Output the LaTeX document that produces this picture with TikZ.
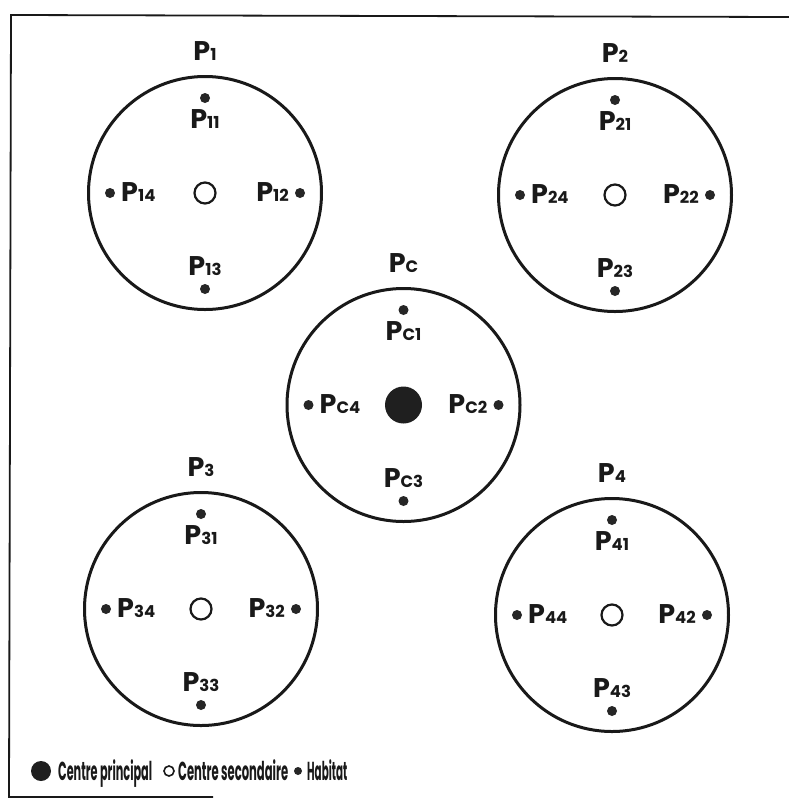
\documentclass[tikz,border=0pt]{standalone}
\usepackage{fontspec}
\usepackage{graphicx}
\newfontfamily\pfont{Poppins}
\newcommand{\plab}[1]{{\pfont\bfseries\fontsize{27}{27}\selectfont P\fontsize{16.5}{16.5}\selectfont #1}}
\newcommand{\legtext}[2]{\resizebox{#1}{\height}{\pfont\bfseries\fontsize{26}{26}\selectfont #2}}
\tikzset{
  x=1pt, y=-1pt,
  ring/.style={draw=black!90, line width=3pt, circle, minimum size=233pt, inner sep=0pt},
  hab/.style={fill=black!85, circle, minimum size=10pt, inner sep=0pt},
  sec/.style={draw=black!90, line width=2.2pt, circle, minimum size=21pt, inner sep=0pt},
  prin/.style={fill=black!88, circle, minimum size=37pt, inner sep=0pt},
  lab/.style={inner sep=0pt, text=black!90},
  frame/.style={draw=black!90, line width=1.8pt},
}
\begin{document}
\begin{tikzpicture}
\fill[white] (0,0) rectangle (789,804);
\useasboundingbox (0,0) rectangle (789,804);
% frame
\coordinate (fa) at (789,17);
\coordinate (fb) at (11,15);
\coordinate (fc) at (9,797);
\coordinate (fd) at (213,797);
\draw[frame] (fa) -- (fb) -- (fc) -- (fd);
% cells
\foreach \n/\cx/\cy/\s/\t in {1/205/193/1/sec, 2/615/195/2/sec, c/403.5/405/C/prin, 3/201/609/3/sec, 4/612/615/4/sec}{
  \node[ring] (ring\n) at (\cx,\cy) {};
  \node[\t] (ctr\n) at (\cx,\cy) {};
  \node[lab, anchor=base] (title\n) at (\cx,\cy-133) {\plab{\s}};
  \node[hab] (h\n1) at (\cx,\cy-95) {};
  \node[lab, anchor=base] (l\n1) at (\cx,\cy-65) {\plab{\s1}};
  \node[hab] (h\n2) at (\cx+95,\cy) {};
  \node[lab, anchor=base east] (l\n2) at (\cx+84,\cy+8) {\plab{\s2}};
  \node[hab] (h\n3) at (\cx,\cy+96) {};
  \node[lab, anchor=base] (l\n3) at (\cx,\cy+82) {\plab{\s3}};
  \node[hab] (h\n4) at (\cx-95,\cy) {};
  \node[lab, anchor=base west] (l\n4) at (\cx-84,\cy+8) {\plab{\s4}};
}
% legend
\node[prin, minimum size=20pt] (lgp) at (41,771) {};
\node[lab, anchor=base west] (lgpt) at (58,780) {\legtext{94pt}{Centre principal}};
\node[sec, minimum size=10pt, line width=1.6pt] (lgs) at (169,771) {};
\node[lab, anchor=base west] (lgst) at (178,780) {\legtext{110pt}{Centre secondaire}};
\node[hab, minimum size=8pt] (lgh) at (298,771) {};
\node[lab, anchor=base west] (lght) at (307,780) {\legtext{40pt}{Habitat}};
\end{tikzpicture}
\end{document}
